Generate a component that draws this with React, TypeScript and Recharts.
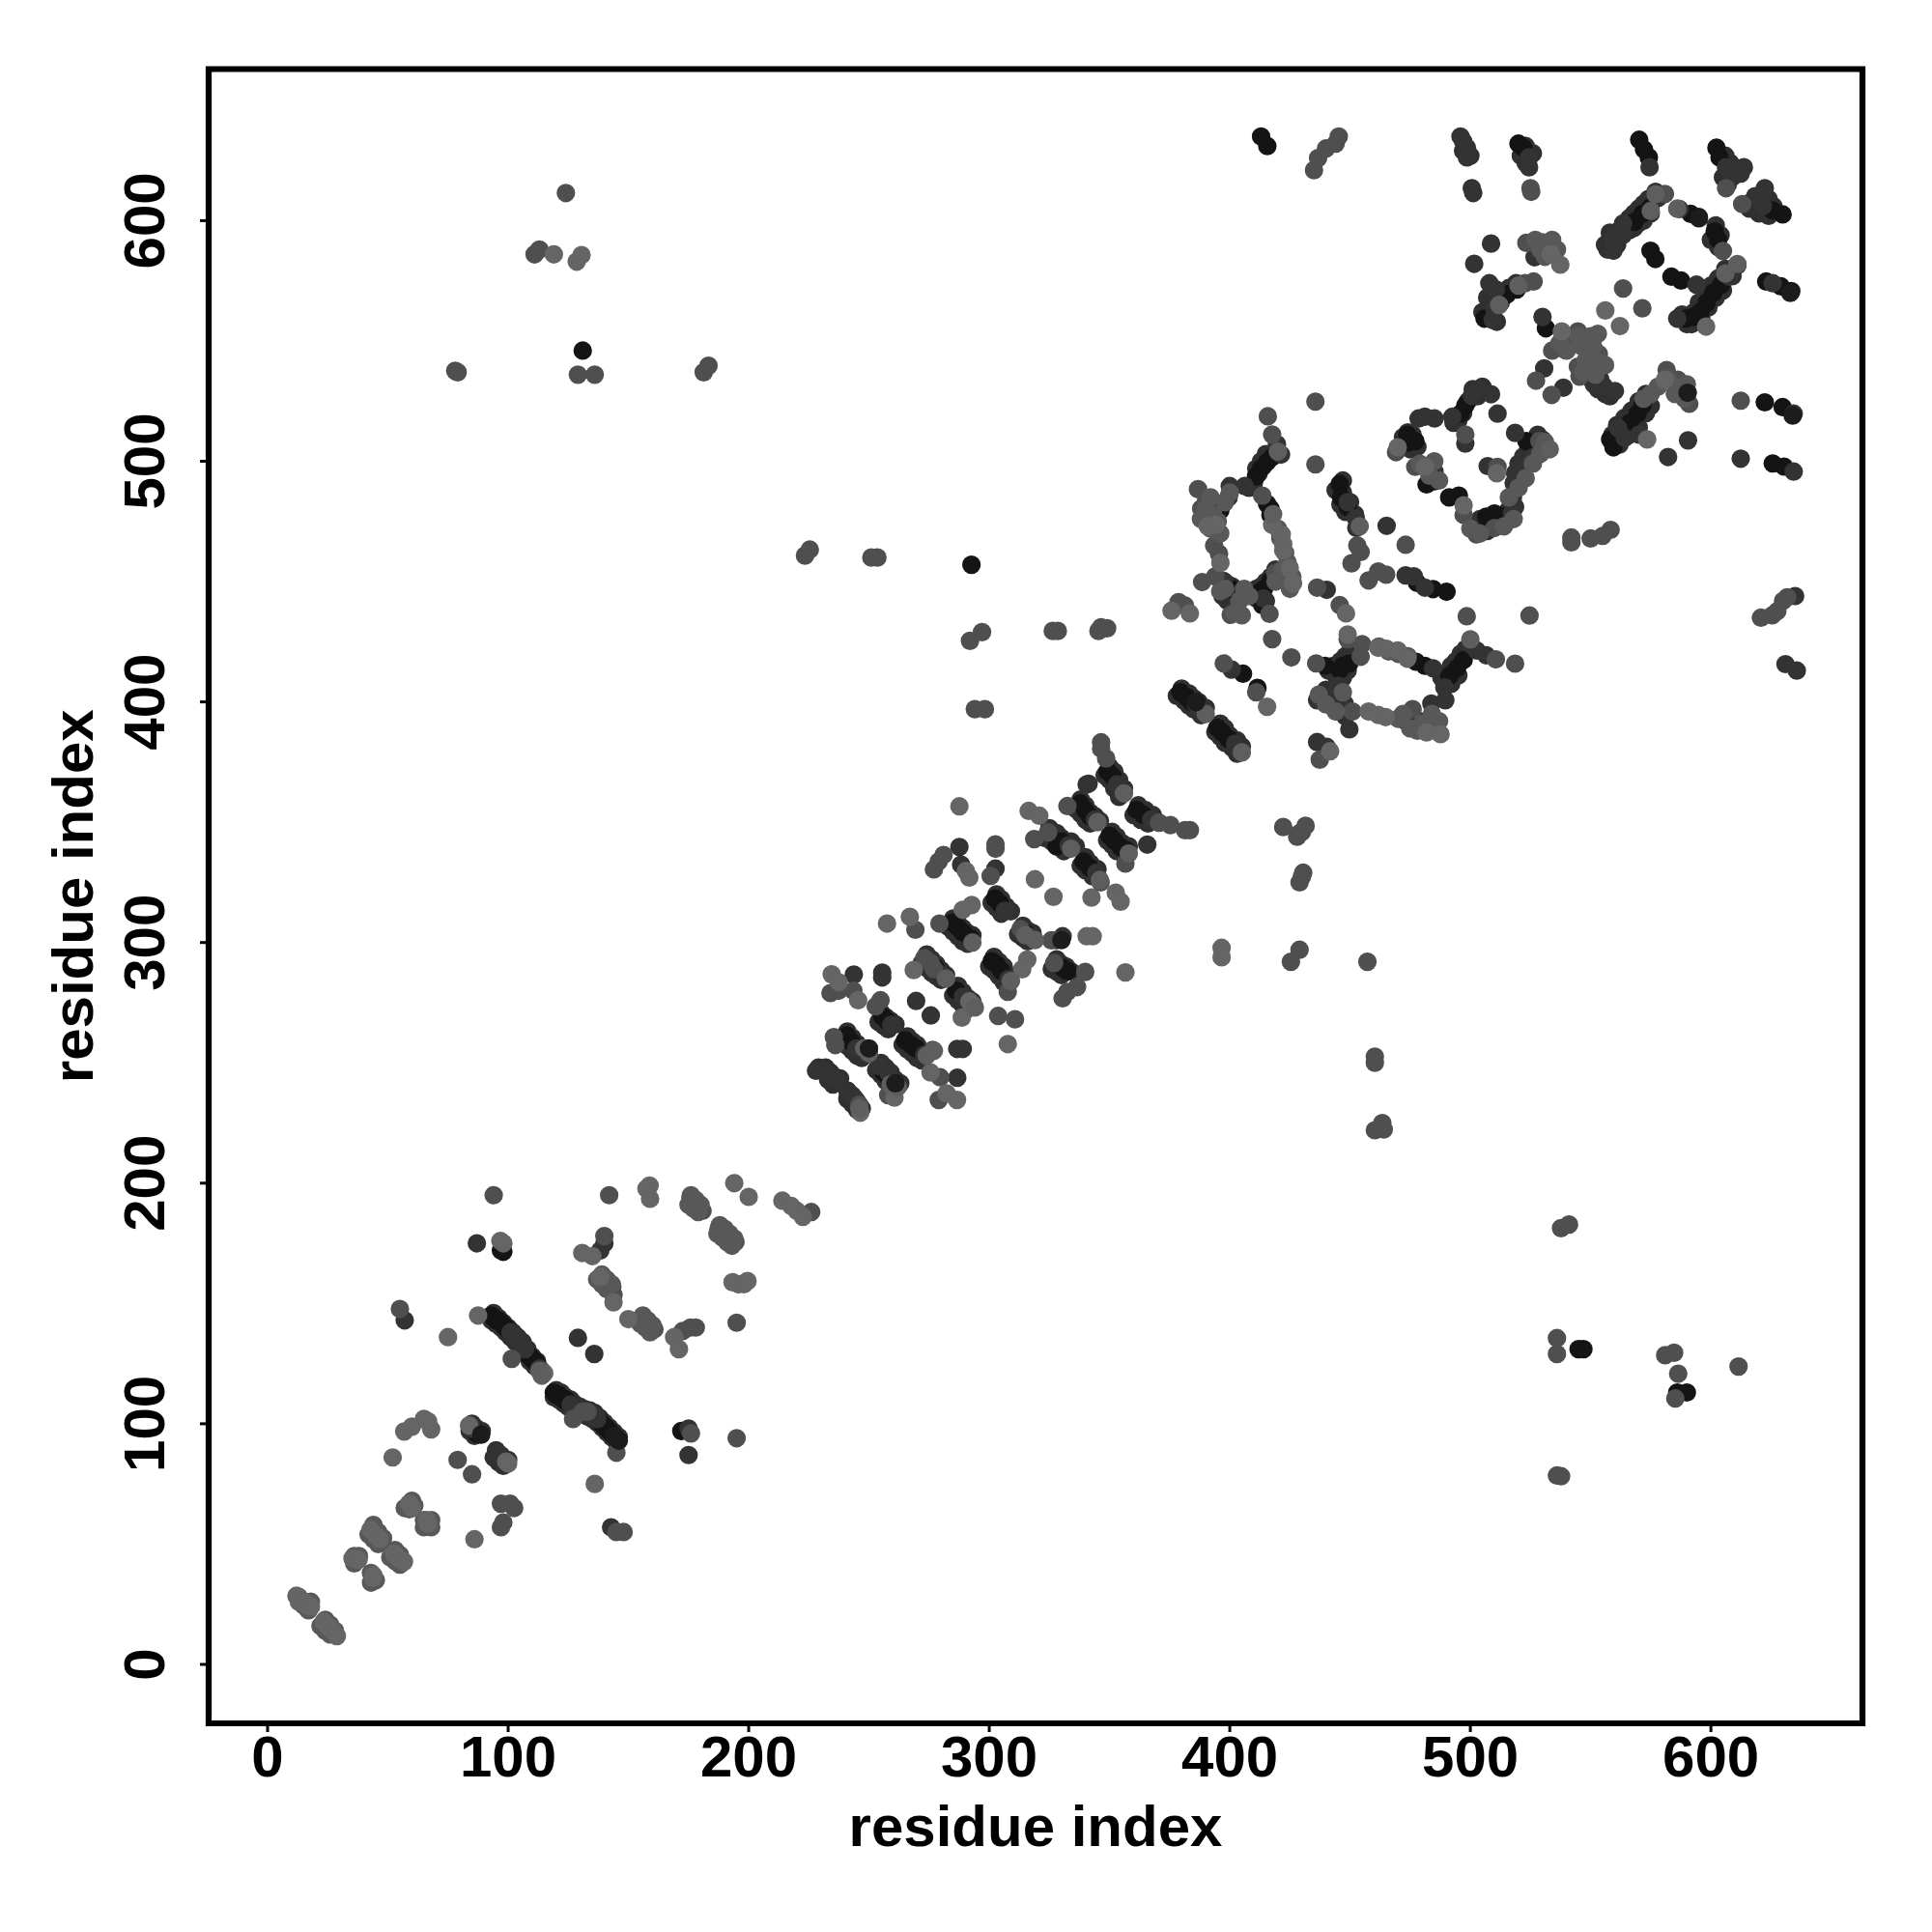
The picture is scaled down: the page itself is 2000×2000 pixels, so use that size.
import { ScatterChart, Scatter, XAxis, YAxis, ZAxis, ReferenceArea } from 'recharts';

type Pt = [number, number];

const TICKS = [0, 100, 200, 300, 400, 500, 600];
const AXIS_MIN = -24.5;
const AXIS_MAX = 663;
const AXIS_TITLE = 'residue index';
const FONT = '"Liberation Sans", Arial, sans-serif';

// neighbouring contacts that thicken the dark runs, drawn under everything
const bandDarkPts: Pt[] = [
  [94,146],[96,144],[98,142],[100,140],[102,138],[104,136],[106,134],[108,131],[110,128],[112,126],[93,143],[95,141.5],[97,140],[99,138],[101,136],[103,134],[105,132],[107,129],[109,126],[111,124],
  [120,114],[122,113],[124,111],[126,110],[128,108],[130,107],[119,111],[121,110],[123,108.5],[125,107],[127,105.5],[129,104],[132,106],[134,105.5],[136,104.5],[138,102.5],[140,100.5],[142,98.5],[144,96.5],[146,94.5],[133,103],[135,102],[137,100.5],[139,98.5],[141,96.5],[143,94.5],[145,92.5],
  [85,100],[87,98],[84,97],[86,95],[89,97],[95,89],[97,87],[94,86],[96,84],[98,82.5],[100,85],
  [229,248],[232,248],[234,246],[236,244],[238,243.5],[233,243],[235,241],[241,238.5],[243,236.5],[245,234],[247,231],[241,235],[243,233],[245,230.5],
  [241,263],[243,260.5],[245,258],[247,256],[249,255.5],[239,259.5],[241,257],[243,255],[245,253],[247,252],
  [255,250],[257,248],[259,246],[261,243],[263,241.5],[253,247],[255,245],[257,242.5],[259,240.5],[261,239],
  [266,261],[268,259],[270,257.5],[272,255],[274,254],[264,257.5],[266,255.5],[268,254],[270,252],[272,251],
  [255,271],[257,269],[259,267.5],[261,266],[254,267],[256,265.5],[258,264],
  [274,295],[276,293],[278,291],[280,288.5],[282,286.5],[272,291.5],[274,289.5],[276,287.5],[278,286],[280,284.5],
  [287,282],[289,279.5],[291,277],[293,275.5],[285,278],[287,276],[289,274],[291,272.5],
  [285,310],[287,308],[289,306],[291,304],[293,303],[283,306.5],[285,304.5],[287,302.5],[289,300.5],[291,299.5],
  [303,320],[305,318],[307,315],[309,313],[301,316.5],[303,314.5],[305,312],
  [314,307],[316,305],[318,304],[312,303.5],[314,302],[316,300.5],
  [302,294],[304,292],[306,290],[308,286.5],[300,290],[302,288.5],[304,286],[306,283.5],
  [328,293],[330,291],[332,290],[334,288],[326,289],[328,288],[330,286.5],
  [325,347.5],[328,345.5],[330,343.5],[334,342],[336,340],[323,343.5],[326,342],[328,340],[331,338],
  [338,359.5],[340,357],[342,354],[344,352.5],[346,350.5],[336,355.5],[338,353.5],[340,351],[342,349.5],
  [351,346],[353,344],[355,341.5],[358,340],[349,342.5],[351,340.5],[353,338],[356,336.5],
  [340,335.5],[342,333],[345,330.5],[338,332],[340,330],[343,327.5],
  [350,373],[352,371],[354,367.5],[356,364],[348,369.5],[350,367.5],[352,364],[354,360.5],
  [362,357],[365,355],[368,353],[360,353],[363,351],[366,349.5],
  [380,405.5],[383,403.5],[385,401.5],[387,400],[390,397.5],[378,402.5],[381,400.5],[383,398.5],[385,397],[388,394.5],
  [396,391],[398,389],[400,386],[403,384],[405,381.5],[394,387.5],[396,385.5],[398,383],[401,381],[403,378.5],
  [447,492],[447,487],[450,483],[452,478],[444,488],[446,482],[448,479],
  [412,495],[414,498],[416,501],[418,503],[410,491],[411,497],[413,500],[415,503],[408,489],
  [413,448],[415,450],[417,452],[419,455],[411,443],[411,447],[413,444],[415,442],
  [399,449],[401,448],[403,446],[397,444],[399,442],[401,441],
  [446,417],[448,419],[450,421],[452,423],[444,411],[443,415],[447,410],[449,413],[441,413],
  [492,415],[494,417],[496,420],[498,422],[490,408],[488,410],[490,412],[492,407.5],[495,411],
  [440,405],[442,403],[444,398],[446,396],[448,394],[441,399],
  [474,512],[472,510],[472,506],[476,511],[475,505],[478,506],
  [493,516],[495,517],[497,520],[499,525],[501,530],[503,527],[505,531],
  [520,499],[522,502],[524,505],[526,505],[528,511],[530,509],[519,493],[521,493],[524,499],
  [504,476],[508,475],[512,475],[516,480],[504,472],[507,471],[510,474],[515,476],
  [566,601],[568,603],[570,605],[572,607],[574,609],[577,612],[564,596],[566,596],[568,597],[570,599],[572,600],[575,603],
  [556,590],[558,595],[561,590],[557,588],[562,596],
  [590,557],[593,562],[595,566],[598,570],[600,573],[603,576],[606,580],[588,561],[592,557],[596,560],[599,564],[602,568],[605,571],[609,577],
  [507,568],[510,566],[513,569],[516,572],[519,574],[505,562],[508,560],[511,558],
  [561,515],[564,518],[567,521],[570,525],[573,528],[559,511],[562,507],[566,511],[570,514],[573,520],[575,523],
  [602,598],[604,594],[600,592],[603,589],
  [606,627],[608,624],[610,621],[605,618],[607,615],[617,608],[620,610],[624,609],[626,606],[616,605],[620,603],[624,602],
  [556,528],[558,527],[553,530],[551,533],[554,534],
  [523,631],[521,627],[526,628],[523,624],[497,633],[500,627],[497,629],
];

// contacts grouped by shade, darkest drawn first
const blackPts: Pt[] = [
  [93,145],[94,144],[95,143],[96,143],[97,142],[98,141],[99,140],[100,139],[108,129],[109,128],[110,127],[111,126],[112,125],
  [119,113],[120,112],[121,112],[122,111],[123,110],[124,110],[125,109],[138,101],[139,100],[140,99],[141,98],[142,97],[143,96],
  [86,97],[87,96],[97,172],[98,171.5],[172,97],
  [256,246],[258,244],[240.8,261.4],[242.8,258.7],[265,259.4],[267.6,257.4],[269.6,256],[255.5,269.4],[257.5,267.4],
  [284.7,308.3],[287,306.3],[289,304.3],[292.3,301.6],[286.3,280],[280,287],[277.6,289.5],[301,292.2],[303,290.9],[305,288.2],
  [302.4,318.3],[304.4,316.3],[315,304],[330.5,289.5],[332.5,288.2],[328,340],[330,342],[337.8,357.8],[339.8,355.1],[341.9,352.4],
  [350,344.4],[352,342.4],[354.6,339.7],[357,338.4],[339.2,333.7],[341.9,331],[349.2,371.2],[351.2,369.2],[361.3,355.1],[364,353.1],
  [379.4,404],[382,402],[384,400],[394.8,389.3],[396.8,387.3],[399.5,384.6],[405.5,411.7],[411.5,405.8],
  [445.7,490.6],[446.3,485],[449,481],[400.8,446.9],[412.2,445.5],[414.2,446.9],[416.9,450.2],[413.5,440.2],[410.9,493.7],[412.9,497],[415.5,499.7],[417.6,501.7],
  [415.5,482.3],[416.9,480.3],[416.9,477.7],[394,481],[396.1,479.7],[445.7,413.4],[447,415],[449.7,416],[439.6,415],[477.4,416.7],[481.1,415],[491.2,410.7],[494.5,414],[497.2,417.4],
  [477.8,449.5],[484.5,446.9],[490.1,445.8],[473.8,507.8],[473.8,511],[477.1,508.4],[481.8,490.4],[485.1,491.7],[491.2,485],[495.2,485.7],[506.6,477],[510,478.3],[513.3,477],[495.9,519.8],[497.9,523.2],[523.3,508.4],
  [520,632],[522,630.3],[570.2,633.6],[572.2,629.6],[574.2,626.3],[602.3,630.3],[603.6,626.3],[629.8,602.6],[625.7,604.2],[571.5,602.8],[568.2,599.5],[574.9,605.5],[591.6,602.8],[595,601.5],[601.6,595.5],[603,592.1],
  [604.3,573.4],[601,570],[598.3,566],[595.6,562],[592.9,560],[589.6,559.3],[587.6,575.1],[583.6,576.7],[574.9,587.5],[576.9,584.1],[629.1,572.7],[633.4,570.7],[623,574.7],
  [515.3,569.4],[512.6,566],[519.3,571.4],[505.9,559.3],[571.5,523.2],[569.5,519.8],[566.2,515.8],[559.5,505.8],[558.1,509.1],[590.3,528.5],[630.4,497.8],[625.7,499.1],[629.8,522.5],[622.4,524.5],[531.4,555.3],
  [131,546],[545,131],[547,131],[292.6,457],[413,635],[415.6,631],[586,113],[590,113],
];

const darkPts: Pt[] = [
  [57,143],[101,138],[102,137],[103,136],[104,135],[105,134],[106,133],[107,131],[113,123],[126,108],[127,107],[128,107],[129,106],[130,106],[134,104],[135,104],[136,103],[137,102],
  [84,99],[85,98],[95,87.7],[96.7,86],[142.8,57],[129,135.7],[135.8,129],[157.5,141],[175,87],[175,98],[87,175],[140,175],[138.3,172],[141,158.5],
  [228,246.7],[231.4,246.7],[232.8,245.4],[235.4,243.3],[236.8,242.7],[242,237.3],[244,235.3],[244.8,256],[248,254.7],[254,248.7],[258,246],[261.5,241],
  [273,253.4],[286.7,255.8],[289,255.8],[286.7,243.8],[255.5,287.5],[255.5,285.5],[259.3,265.8],[269.6,275.7],[275.7,269.7],[243.7,286.7],[280.3,286.8],[289,277.5],
  [287.6,339.7],[288.3,332.4],[302.6,330.7],[306.4,313.2],[308,284.8],[318,302.2],[330.5,302.6],[333,340.4],[343.9,351.1],[344.5,329],[340.5,365.7],[341.3,366],[353.2,365.8],[355.2,362.5],[367.3,351.1],[365.7,340.7],
  [386,398.7],[389.2,396],[402.2,382.6],[404.2,380],[400.8,413.4],[402.8,440.2],[404.8,445.5],[397.5,450.2],[414,443],[399.5,485],[400,489.7],[406.2,489.7],[419.6,507.1],[421.3,502.8],
  [449,483],[452.4,476.3],[452.6,472.3],[465.2,473.2],[473.1,452.6],[476.5,452.2],[481.1,447.5],[445,406.7],[439.6,402.7],[436.3,400.7],[443.7,400.7],[447.7,399.3],[436.3,383.3],[440.3,381.3],[449.7,388.6],[440.3,446.6],
  [473.1,392],[475.8,394.6],[479.1,392],[483.8,399.3],[483.8,390.6],[489.6,400.7],[489.2,406],[484.5,414],[500,424],[502.6,421.4],[506.6,419.4],[478.5,517.8],[481.1,518.5],[485.1,517.8],[492.5,518.5],[500.6,527.2],[503.2,529.9],[508.6,527.9],[511.3,519.8],
  [497.9,507.4],[485.1,495.7],[518.6,511.8],[526,501.7],[522,497.7],[518.6,495.1],[518,491],[517.7,485],[518.6,481],[517.3,478.3],[507.2,498],
  [495.9,635],[498.6,630.3],[498.6,626.3],[524.4,626.3],[524.4,622.2],[501.2,611.5],[500.6,613.5],[508.6,590.5],[501.6,582.1],[527.3,590.8],[526.7,584.8],[563.5,598.8],[559.5,592.8],[559.5,587.5],[563.5,594.1],[578.2,609.5],[586.9,604.8],
  [606.3,622.2],[609,618.2],[613.7,622.2],[612.4,619.6],[618.4,610.2],[622.4,613.5],[621.7,606.2],[574.5,622.2],[611,581.4],[607.7,576.7],[586,559.3],[594,573.4],[625.7,574],
  [510,563.3],[507.9,574],[510.6,571.4],[509.3,558.7],[530,560],[539.4,546.3],[530.7,538.6],[538.7,530.6],[551.4,531.9],[555.5,531.2],[560.1,529.2],[564.2,509.8],[561.5,513.8],[590.5,508.7],[582.2,501.8],[570.2,511.1],[634.4,519.8],[634.4,495.7],[612.4,501.1],[631,415.7],[635.7,413],[635,444],
];

const midPts: Pt[] = [
  [55,147.7],[94,195],[114,122],[131,105],[133,105],[176,96],[148,55],[145,55],[79,85],[85,79],[98,59],[97,57],[100.8,66.8],[102.5,65],[97,66.8],[145,88],[127,102],[101.5,127],
  [142,195],[140,178],[143.3,157],[143.8,153.5],[155,143.5],[160.8,139.3],[172.5,138.5],[175.8,140],[178,140],[175.8,193.8],[177.5,192],[179,190],[180.8,188.5],[187.5,181],[190,179.7],[192.5,177.7],[194.5,175.5],[195,94],[195,142],[226,188],
  [234,279],[237.4,280],[243.5,280],[254.8,276],[252.8,273.5],[235.4,260.7],[236,257.4],[276.5,255.4],[279.6,244],[279,234.6],[246,232.6],[258,236.6],[275.6,291.5],[277,289],[273,293.5],[269.3,305.3],[279.3,307.9],
  [277,330.4],[279,333.7],[281,336.4],[302.6,340.8],[302.6,339],[300.6,327.7],[313,305.6],[325.8,300.9],[327.8,300.9],[327,291.5],[339.9,287.8],[336.5,281.5],[332.5,279.5],[330.5,276.8],[307.7,279.5],[303.7,269.5],[310.7,268.1],[324.5,345.8],[332.5,356.7],[318.7,343],[346.3,325],[348.6,376.5],[346.5,383.2],[346.5,380.6],[370.6,349.8],[375.3,348.8],[381.4,346.7],[383.4,346.7],[356.6,332.8],
  [397.5,416],[378.7,441.5],[381.4,440],[388.5,449.8],[394,452.2],[400.4,436.2],[416.5,436.6],[418.9,453.6],[420.9,454.2],[393.5,465],[395.5,461.6],[386.8,488.4],[388.1,480.3],[390.1,483.7],[413.5,485.7],[417.6,511.1],[415.8,518.7],[435.6,524.8],[435.6,498.7],[391.5,477.7],
  [453,465],[454.4,462.3],[450.6,457.6],[473.1,465.3],[457.7,450.5],[461.7,454.2],[465,452.9],[436.3,447.5],[445.7,440.2],[498.5,435.6],[524.6,435.9],[518.6,415.9],[510.6,417.7],[435.9,416],[449,426],[454.4,418.8],[455,424],[437.4,376],[451,396],
  [425.6,418.5],[417.6,426.1],[411,404],[476,397],[469.1,503.8],[497.9,511.1],[511.3,497.7],[497.2,477.7],[477.1,497.7],[528.7,508.4],[530,505.8],[502.6,469.6],[510,472.3],[542,468.3],[542,466.3],[550,467.9],[558.3,471.5],[555,469],
  [525,613.5],[525.3,612],[523.3,590.8],[532.7,589.4],[534,546],[527.3,533.5],[533.8,527.6],[544.7,554],[541.4,551.3],[548.8,543.3],[553.4,544.6],[550.1,537.9],[545.4,535.2],[544.7,539.3],[563.5,571.8],[571.5,563.6],[580.9,611.1],[605,587.4],[606.3,613.5],[613,606.9],[526.3,574.7],[522.7,574],[612.4,525.2],[581.6,537.9],[586.2,533.9],[591,523.9],[620.8,435],[625.5,436],[627.6,437.7],[630,442],[631.7,443.5],
  [124,611.5],[111,586],[113,588],[78,537.6],[79,537],[129,536],[136,536],[181.3,537],[183.3,539.7],[223.4,460.8],[225.4,463.3],[251,460],[253.5,460],[292,425.4],[297,429],[294,397],[298.2,397],[326.4,429.5],[328.5,429.5],[345.4,429.5],[346.5,431],[349,430.6],[422.2,348],[429,345.4],[430,346],[428,344],[431.5,348.5],[430,327.4],[430.5,329],[429,325],[429,297],[425.4,292],[457.2,292],[460.3,252.6],[460.3,250],[460.3,222],[463.4,225],[464,222.3],[537.7,181.3],[541,182.8],[536,135.6],[536,129],[537.7,78.2],[536,78.5],[584.7,129.5],[581,128.5],[586.4,120.8],[585.2,110.5],[611.5,123.8],[435,621],[436.7,626],[440,630],[444,632],[445.3,635],
];

// softer neighbours around the paler runs
const bandSoftPts: Pt[] = [
  [156,145],[158,143],[160,141],[155,141.5],[157,140],[159,138],
  [176,195],[178,193],[180,191],[175,191],[177,189.5],[179,188],[188,182.5],[190,181],[192,179],[194,177],[187,179],[189,177.5],[191,175.5],[193,174],
  [139,162],[141,160],[143,158],[137,160],[139,158],[141,156],
  [13,28],[15,24.5],[17,22.5],[18,26],[24,18.5],[26,16.5],[28,14],[22,16],[24,14],[26,12.5],
  [44,58],[46,55],[48,52.5],[42,54],[44,52],[46,50],[53,47.5],[55,45.5],[51,44.5],[53,43],[55,41.5],
  [60,68],[57,65],[59,64.5],[61,66],[65,60],[68,60],[65,57],[68,57],
  [36,45],[38,45],[36,42],[43,38],[45,35],[43,34],
  [527,592],[530,591],[534,592],[536,588],[531,585],[529,588],
  [545,552],[550,552],[553,553],[546,548],[551,548],[540,546],[537,549],[554,541],[548,542],[552,536],[556,540],[547,537],
  [392,485],[390,480],[393,478],[395,475],[388,476],[392,472],[396,470],[398,483],[400,487],
  [420,472],[421,468],[423,462],[424,458],[422,455],[426,452],[419,450],[425,447],
  [396,446],[398,447],[404,442],[406,447],[408,444],[402,437],[405,436],
  [462,423],[466,421],[470,420],[474,419],
  [475,389],[478,388],[480,391],[484,395],[487,392],[470,393],[472,395],
  [437,403],[440,399],[447,404],[444,396],
  [500,472],[504,470],[514,473],[518,476],[516,485],[520,489],[523,493],[526,499],[529,503],[531,508],
  [485,500],[483,494],[487,492],[479,499],
  [572,526],[575,528],[578,531],[582,534],[586,531],[589,526],[585,528],[590,532],
];

const greyPts: Pt[] = [
  [12,28.5],[13,26],[15,26],[16.7,24.3],[18,24],[23.3,17.7],[25,16],[25.8,15],[27,14],[28.8,11.8],[35.3,44],[37.8,43.5],[43.8,36],[44,37],[42.8,56],[45,53.5],[46.7,52],[52.5,46],[54.5,44],[56.7,42.7],[58.8,66.8],[60,65],[66.7,58.5],[66,60],
  [86,52],[52,86],[56.8,96.8],[60,98.8],[65,102],[66.7,101],[68,97.7],[83.8,99.3],[99.2,84.3],[100,83.5],[136,75],[75,136],[87.5,145],[115,121],[98,175],[96.8,176],[130.8,171],[135,169.7],[138.3,161],[143.8,150.5],[150,143.5],
  [169,136],[171,131],[158.8,199],[157.5,197.7],[159,193.5],[194,200],[200,194.3],[193.3,158.8],[195.8,158],[198,158],[199.5,159.3],[214,192.7],[217.7,190.5],[220,188.5],[222.5,186],
  [234.5,286.8],[237.4,283.5],[245.5,276],[246.4,229.3],[260.6,235.6],[275.6,246],[282.3,237.3],[286.6,234.6],[268.6,288.6],[291.7,275.5],[293.3,274],[288.6,268.8],[257.5,307.9],[267,310.7],[289,313.6],[292.7,315.6],[287.6,356.6],
  [290.3,329.7],[291.7,327],[315.8,292.9],[313.7,288.9],[307.7,257.8],[356.6,287.6],[319,326.3],[326.7,319],[342.5,318.7],[352.6,320.7],[354.6,317],[316.4,354.7],[320.8,352.7],[340.5,302.6],[343,302.6],[396.6,297.8],[396.6,293.9],
  [415.5,398],[375.8,437.9],[383.4,436.8],[421.6,469.6],[422.2,465.6],[422.2,463],[417.6,473.6],[424.9,455.6],[426.3,449.3],[390.8,473],[394.1,473.6],[396.1,457.8],
  [448.3,436.8],[461.7,422.5],[465.1,422.1],[469.8,421.4],[473.8,418],[449,428],[457.7,396],[461.7,394.6],[464.8,393.7],[487.6,386.6],[481.8,387.3],[441.7,379.5],[469.8,505.8],[497.2,481.7],[481.1,497.7],[511,495],
  [533.4,586.1],[537.4,581.7],[538,554],[556.1,562.7],[562.2,556.2],[598,556],[580.9,533.9],[573.5,509.1],[119,586],[128.5,583],[130.5,585.7],
];

// paler contacts sitting on the ends of the dark runs
const runEndPts: Pt[] = [
  [113,122],[114,120],[248,256],[250,254],[259,241],[262,240],[246,231],[274,253],[277,255],[282,285],[294,273],[293,300],[315,303],[319,301],[309,284],[334,339],[345,350],[358,337],[346,326],[356,362],[390,395],[405,379],[420,504],[418,478],[454,473],[500,426],[586,605],[577,611],[533,505],[606,578],[611,582],[575,604],[520,573],[512,565],
];

const inkPts: Pt[] = [
  [88.8,95.5],[146,93],[145,94],[144,95],[261,241.5],[250,256],[330,301],[386,400],[590.3,528.5],[634,519],[633,570],[595,601],
];

function YTick({ x, y, payload }: any) {
  return (
    <text
      x={x - 35}
      y={y}
      transform={`rotate(-90 ${x - 35} ${y})`}
      textAnchor="middle"
      fontFamily={FONT}
      fontWeight="bold"
      fontSize={60}
      fill="#000"
    >
      {payload.value}
    </text>
  );
}

function XTick({ x, y, payload }: any) {
  return (
    <text x={x} y={y + 44} textAnchor="middle" fontFamily={FONT} fontWeight="bold" fontSize={60} fill="#000">
      {payload.value}
    </text>
  );
}

const titleStyle = { fontFamily: FONT, fontWeight: 'bold', fontSize: 60, fill: '#000', textAnchor: 'middle' };

const toData = (pts: Pt[]) => pts.map(([x, y]) => ({ x, y, s: 1 }));

export default function App() {
  return (
    <div style={{ position: 'absolute', left: 0, top: 0, width: 2000, height: 2000, background: '#fff' }}>
      <ScatterChart width={2000} height={2000} margin={{ top: 71.5, right: 72, bottom: 0, left: 0 }}>
        <XAxis
          type="number"
          dataKey="x"
          domain={[AXIS_MIN, AXIS_MAX]}
          ticks={TICKS}
          allowDataOverflow
          height={216}
          axisLine={false}
          tickSize={9}
          tickLine={{ stroke: '#000', strokeWidth: 3 }}
          tick={<XTick />}
          label={{ value: AXIS_TITLE, position: 'insideBottom', offset: 89, style: titleStyle }}
        />
        <YAxis
          type="number"
          dataKey="y"
          domain={[AXIS_MIN, AXIS_MAX]}
          ticks={TICKS}
          allowDataOverflow
          width={216}
          axisLine={false}
          tickSize={9}
          tickLine={{ stroke: '#000', strokeWidth: 3 }}
          tick={<YTick />}
          label={{ value: AXIS_TITLE, angle: -90, position: 'insideLeft', offset: 75, style: titleStyle }}
        />
        <ZAxis type="number" dataKey="s" range={[290, 290]} />
        <ReferenceArea x1={AXIS_MIN} x2={AXIS_MAX} y1={AXIS_MIN} y2={AXIS_MAX} fill="none" stroke="#000" strokeWidth={6.2} ifOverflow="visible" />
        <Scatter data={toData(bandDarkPts)} fill="#303030" isAnimationActive={false} />
        <Scatter data={toData(blackPts)} fill="#141414" isAnimationActive={false} />
        <Scatter data={toData(darkPts)} fill="#333333" isAnimationActive={false} />
        <Scatter data={toData(midPts)} fill="#4f4f4f" isAnimationActive={false} />
        <Scatter data={toData(bandSoftPts)} fill="#585858" isAnimationActive={false} />
        <Scatter data={toData(greyPts)} fill="#656565" isAnimationActive={false} />
        <Scatter data={toData(runEndPts)} fill="#5e5e5e" isAnimationActive={false} />
        <Scatter data={toData(inkPts)} fill="#1c1c1c" isAnimationActive={false} />
      </ScatterChart>
    </div>
  );
}
